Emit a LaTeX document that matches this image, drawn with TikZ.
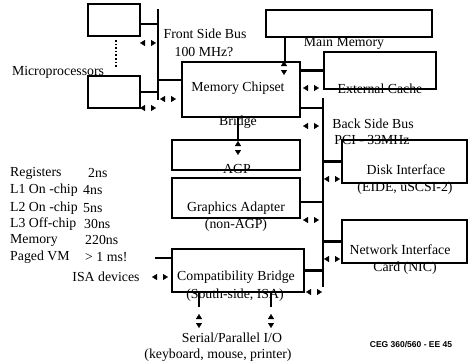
\documentclass[tikz,border=0pt]{standalone}
\usepackage{fontspec}
\setmainfont{Liberation Serif}
\newfontfamily\footfont{Liberation Sans}
\usepackage{tikz}
\usetikzlibrary{arrows.meta}

\begin{document}
\begin{tikzpicture}[x=1pt, y=-1pt,
  box/.style={draw, line width=2.6pt, inner sep=0pt, outer sep=0pt},
  wire/.style={line width=2.6pt},
  lbl/.style={inner sep=0pt, font=\fontsize{13.8}{16}\selectfont},
  pair/.style={draw=white, line width=0.3pt,
    {Triangle[color=black,length=5pt,width=6pt]}-{Triangle[color=black,length=5pt,width=6pt]}}]
  \useasboundingbox (0,0) rectangle (468,360);

  % Boxes of the system
  \node[box, minimum width=52pt, minimum height=32pt] (cpuA) at (114,20) {};
  \node[box, minimum width=52pt, minimum height=32pt] (cpuB) at (114,92) {};
  \node[box, minimum width=166pt, minimum height=27pt] (mainmem) at (349,23.5) {};
  \node[box, minimum width=118pt, minimum height=55pt] (chip) at (241,89.5) {};
  \node[box, minimum width=112pt, minimum height=37pt] (cache) at (380,70.5) {};
  \node[box, minimum width=128pt, minimum height=30pt] (agp) at (236,155) {};
  \node[box, minimum width=128pt, minimum height=40pt] (gfx) at (236,198) {};
  \node[box, minimum width=125pt, minimum height=43pt] (disk) at (404.5,161.5) {};
  \node[box, minimum width=125pt, minimum height=43pt] (nic) at (404.5,241.5) {};
  \node[box, minimum width=132pt, minimum height=43pt] (compat) at (238,270.5) {};

  % Bus end points
  \coordinate (fsbtop) at (158,9);
  \coordinate (fsbbot) at (158,100);
  \coordinate (bsbtop) at (323,98);
  \coordinate (bsbbot) at (323,287);
  \coordinate (isastub) at (155,258);
  \coordinate (serA) at (199,307);
  \coordinate (serB) at (271,307);

  % Front side bus
  \draw[wire] (fsbtop) -- (fsbbot);
  \draw[wire] ([yshift=-4pt]cpuA.east) -| (fsbtop);
  \draw[wire] (cpuB.east) -| (fsbbot);
  \draw[wire] ([yshift=9.5pt]chip.west) -| (fsbtop);
  \draw[dotted, line width=1.6pt] ([xshift=2pt,yshift=-4pt]cpuA.south) -- ([xshift=2pt,yshift=8pt]cpuB.north);

  % Memory and cache
  \draw[wire] ([xshift=44pt]chip.north) |- (mainmem.south);
  \draw[wire] (cache.west) -| (chip.east);
  \draw[wire] ([xshift=2pt]agp.north) |- (chip.south);

  % Back side bus
  \draw[wire] (bsbtop) -- (bsbbot);
  \draw[wire] ([yshift=-18.5pt]chip.east) -| (bsbtop);
  \draw[wire] (disk.west) -| (bsbtop);
  \draw[wire] ([yshift=-4pt]gfx.east) -| (bsbtop);
  \draw[wire] (nic.west) -| (bsbtop);
  \draw[wire] (compat.east) -| (bsbbot);

  % Stubs of the compatibility bridge
  \draw[wire] (isastub) -- (isastub -| compat.west);
  \draw[wire] (serA) -- (serA |- compat.south);
  \draw[wire] (serB) -- (serB |- compat.south);

  % Arrow pairs
  \foreach \x/\y in {148/43, 148/108, 168/99, 311/88, 311/126, 332/179,
                     311/220, 332/259, 314/292, 160/277}
    \draw[pair] (\x-8,\y) -- (\x+8,\y);
  \foreach \x/\y in {284/68, 238/148, 199/321, 271/321}
    \draw[pair] (\x,\y-7) -- (\x,\y+7);

  % Labels
  \node[lbl] (tMicro) at (58,72) {Microprocessors};
  \node[lbl] (tFsb) at (205,34) {Front Side Bus};
  \node[lbl] (tFsbClk) at (204,52) {100 MHz?};
  \node[lbl] (tMem) at (344,43) {Main Memory};
  \node[lbl] (tChip) at (238,88) {Memory Chipset};
  \node[lbl] (tBridge) at (238,122) {Bridge};
  \node[lbl] (tCache) at (380,89) {External Cache};
  \node[lbl] (tBsb) at (373,124) {Back Side Bus};
  \node[lbl] (tPci) at (372,140) {PCI - 33MHz};
  \node[lbl] (tAgp) at (237,169) {AGP};
  \node[lbl] (tGfx) at (236,208) {Graphics Adapter};
  \node[lbl] (tGfxSub) at (236,225) {(non-AGP)};
  \node[lbl] (tDisk) at (406,170) {Disk Interface};
  \node[lbl] (tDiskSub) at (405,188) {(EIDE, uSCSI-2)};
  \node[lbl] (tNic) at (400,250) {Network Interface};
  \node[lbl] (tNicSub) at (405,268) {Card (NIC)};
  \node[lbl] (tCompat) at (236,277) {Compatibility Bridge};
  \node[lbl] (tCompatSub) at (235,295) {(South-side, ISA)};
  \node[lbl] (tIsa) at (106,277) {ISA devices};
  \node[lbl] (tSerial) at (232,338) {Serial/Parallel I/O};
  \node[lbl] (tSerialSub) at (218,355) {(keyboard, mouse, printer)};

  % Access times
  \node[lbl, anchor=west] (tRegs) at (10,173) {Registers};
  \node[lbl, anchor=west] (tRegsT) at (88,173) {2ns};
  \node[lbl, anchor=west] (tLone) at (10,190) {L1 On -chip};
  \node[lbl, anchor=west] (tLoneT) at (83,190) {4ns};
  \node[lbl, anchor=west] (tLtwo) at (10,208) {L2 On -chip};
  \node[lbl, anchor=west] (tLtwoT) at (83,208) {5ns};
  \node[lbl, anchor=west] (tLthree) at (10,224) {L3 Off-chip};
  \node[lbl, anchor=west] (tLthreeT) at (84,224) {30ns};
  \node[lbl, anchor=west] (tDram) at (10,240) {Memory};
  \node[lbl, anchor=west] (tDramT) at (85,240) {220ns};
  \node[lbl, anchor=west] (tVm) at (10,257) {Paged VM};
  \node[lbl, anchor=west] (tVmT) at (85,257) {> 1 ms!};

  % Footer
  \node[inner sep=0pt, font=\footfont\bfseries\fontsize{8.5}{10}\selectfont] (tFoot) at (411,344) {CEG 360/560 - EE 45};
\end{tikzpicture}
\end{document}
